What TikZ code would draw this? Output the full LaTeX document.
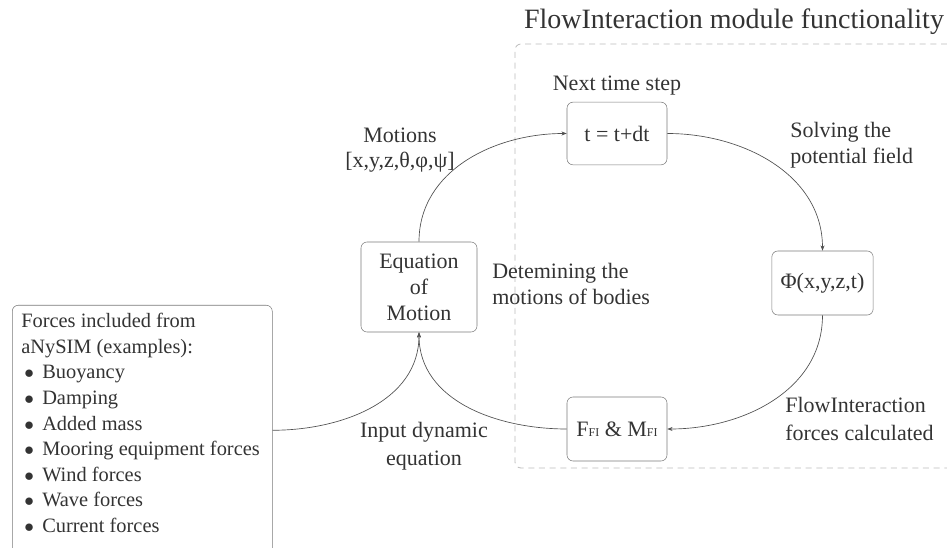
\documentclass[tikz,border=0pt]{standalone}
\usepackage{fontspec}
\setmainfont{Liberation Serif}
\usetikzlibrary{arrows.meta}
\usetikzlibrary{positioning}

\definecolor{txtgray}{HTML}{333333}
\definecolor{linegray}{HTML}{7A7A7A}
\definecolor{arrgray}{HTML}{505050}
\definecolor{dashgray}{HTML}{BBBBBB}

\newcommand{\fisub}[1]{{\fontsize{9}{9}\selectfont #1}}
\newcommand{\fitem}[1]{\hspace*{2.25pt}\makebox[13.5pt][l]{$\bullet$}#1}

\tikzset {
  % process box of the loop
  box/.style = {
    draw = linegray,
    rounded corners = 4.5pt,
    text = txtgray,
    font = \fontsize{16.5}{19.5}\selectfont,
    align = center,
    inner sep = 0pt
  },
  % free text beside the loop
  lbl/.style = {
    text = txtgray,
    inner sep = 0pt,
    font = \fontsize{16.5}{20}\selectfont
  },
  % connector with arrow head
  arr/.style = {
    draw = arrgray,
    line width = 0.5pt,
    -{Stealth[length = 4pt, width = 3pt]}
  }
}

\begin{document}
\begin{tikzpicture}[x = 0.75pt, y = -0.75pt]
  \useasboundingbox (0,0) rectangle (947,548);

  \node[lbl, font = \fontsize{21}{25}\selectfont] (title) at (734,22)
    {FlowInteraction module functionality};
  % module region, open to the right
  \draw[dashgray, line width = 0.6pt, dash pattern = on 4.5pt off 3.5pt,
    rounded corners = 4.5pt] (947,44) -| (515,468) -- (947,468);

  \node[box, minimum width = 75pt, minimum height = 47pt] (tstep) at (617,133.5) {t = t+dt};
  \node[box, minimum width = 87pt, minimum height = 67.5pt] (eom) at (419,287) {Equation\\of\\Motion};
  \node[box, minimum width = 76pt, minimum height = 48pt] (phi) at (822.5,283) {Φ(x,y,z,t)};
  \node[box, minimum width = 75pt, minimum height = 48pt] (fmf) at (617,429)
    {F\fisub{FI} \& M\fisub{FI}};
  \node[box, anchor = north west, inner xsep = 6.75pt, inner ysep = 6pt] (forces) at (12,305)
    {\parbox[t][175.5pt][t]{181.5pt}{\raggedright\fontsize{15.3}{19.2}\selectfont
      Forces included from\\
      aNySIM (examples):\\
      \fitem{Buoyancy}\\
      \fitem{Damping}\\
      \fitem{Added mass}\\
      \fitem{Mooring equipment forces}\\
      \fitem{Wind forces}\\
      \fitem{Wave forces}\\
      \fitem{Current forces}}};

  \node[lbl] (nextlbl) [above = 5pt of tstep] {Next time step};
  \node[lbl, align = center, font = \fontsize{16.5}{19}\selectfont] (motionlbl) at (400,150)
    {Motions\\{[}x,y,z,θ,φ,ψ]};
  \node[lbl, anchor = west, align = left] (detlbl) at (492,284) {Detemining the\\motions of bodies};
  \node[lbl, anchor = west, align = left, font = \fontsize{16.5}{19.5}\selectfont] (solvelbl)
    at (790,145) {Solving the\\potential field};
  \node[lbl, anchor = west, align = left, font = \fontsize{16.5}{21}\selectfont] (fflbl)
    at (785,419) {FlowInteraction\\forces calculated};
  \node[lbl, align = center, font = \fontsize{16.5}{21}\selectfont] (inputlbl) at (424,446)
    {Input dynamic\\equation};

  \draw[arr] (eom.north) to[out = 90, in = 180] (tstep.west);
  \draw[arr] (tstep.east) to[out = 0, in = 90] (phi.north);
  \draw[arr] (phi.south) to[out = -90, in = 0] (fmf.east);
  \draw[arr] (fmf.west) to[out = 180, in = -90] (eom.south);
  \draw[arr] (forces.east) to[out = 0, in = -90] (eom.south);
\end{tikzpicture}
\end{document}
